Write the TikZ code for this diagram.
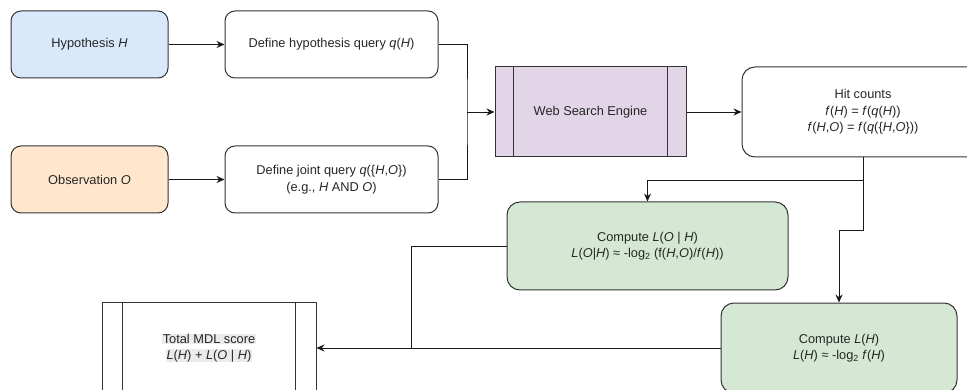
\documentclass[tikz,border=0pt]{standalone}
\usepackage{fontspec}
\setmainfont{Liberation Sans}
\usetikzlibrary{arrows.meta,calc}
\definecolor{bluef}{HTML}{DAE8FC}
\definecolor{orangef}{HTML}{FFE6CC}
\definecolor{purplef}{HTML}{E1D5E7}
\definecolor{greenf}{HTML}{D5E8D4}
\definecolor{linec}{HTML}{333333}
\definecolor{hlgray}{HTML}{EBEBEB}
\newcommand{\hl}[1]{{\setlength{\fboxsep}{0.5pt}\colorbox{hlgray}{#1}}}
\begin{document}
\begin{tikzpicture}[x=1pt,y=-1pt,
  every node/.style={font=\fontsize{12.8}{16.5}\selectfont, text=black!85, align=center, inner sep=0pt},
  boxa/.style={draw=linec, line width=1pt, rounded corners=10pt},
  boxb/.style={draw=linec, line width=1pt, rounded corners=13pt},
  procbox/.style={draw=linec, line width=1pt},
  conn/.style={draw=black!90, line width=0.95pt},
  arr/.style={conn, -{Stealth[length=8pt,width=7pt]}}]
\useasboundingbox (0,0) rectangle (967,390);
\clip (0,0) rectangle (967,390);
\fill[white] (0,0) rectangle (967,390);

\node[boxa, fill=bluef, minimum width=157pt, minimum height=67pt] (hyp) at (89.5,44.5) {Hypothesis \textit{H}};
\node[boxa, minimum width=213pt, minimum height=67pt] (qh) at (331.5,44.5) {Define hypothesis query \textit{q}(\textit{H})};
\node[boxa, fill=orangef, minimum width=157pt, minimum height=67pt] (obs) at (89.5,179.5) {Observation \textit{O}};
\node[boxa, minimum width=213pt, minimum height=67pt] (qj) at (331.5,179.5) {Define joint query \textit{q}(\{\textit{H},\textit{O}\})\\(e.g., \textit{H} AND \textit{O})};

\node[procbox, fill=purplef, minimum width=191pt, minimum height=90pt] (web) at (590.5,112) {Web Search Engine};
\draw[procbox] ($(web.north west)+(19pt,0)$) -- ($(web.south west)+(19pt,0)$);
\draw[procbox] ($(web.north east)+(-19pt,0)$) -- ($(web.south east)+(-19pt,0)$);

\node[boxb, minimum width=242pt, minimum height=90pt] (hit) at (863,112) {Hit counts\\\textit{f}(\textit{H}) = \textit{f}(\textit{q}(\textit{H}))\\\textit{f}(\textit{H},\textit{O}) = \textit{f}(\textit{q}(\{\textit{H},\textit{O}\}))};

\node[boxb, fill=greenf, minimum width=281pt, minimum height=88pt] (clo) at (647.5,246) {Compute \textit{L}(\textit{O} | \textit{H})\\\textit{L}(\textit{O}|\textit{H}) ≈ -log\textsubscript{2} (f(\textit{H},\textit{O})/\textit{f}(\textit{H}))};
\node[boxb, fill=greenf, minimum width=236pt, minimum height=90pt] (clh) at (839,348) {Compute \textit{L}(\textit{H})\\\textit{L}(\textit{H}) ≈ -log\textsubscript{2} \textit{f}(\textit{H})};

\node[procbox, fill=white, minimum width=214pt, minimum height=92pt] (mdl) at (209,348) {\hl{Total MDL score}\\[-1pt]\hl{\textit{L}(\textit{H}) + \textit{L}(\textit{O} | \textit{H})}};
\draw[procbox] ($(mdl.north west)+(21pt,0)$) -- ($(mdl.south west)+(21pt,0)$);
\draw[procbox] ($(mdl.north east)+(-21pt,0)$) -- ($(mdl.south east)+(-21pt,0)$);

\coordinate (j1) at (467,112);
\coordinate (j2) at ($(hit.south |- 0,180)$);
\coordinate (j2b) at ($(hit.south |- 0,230)$);
\coordinate (j3) at (411,348);

\draw[arr] (hyp) -- (qh);
\draw[arr] (obs) -- (qj);
\draw[conn] (qh.east) -| (j1) |- (qj.east);
\draw[arr] (j1) -- (web.west);
\draw[arr] (web) -- (hit);
\draw[arr] (hit.south) -- (j2) -| (clo.north);
\draw[arr] (j2) -- (j2b) -| (clh.north);
\draw[conn] (clo.west) -| (j3);
\draw[arr] (clh.west) -- (mdl.east);
\end{tikzpicture}
\end{document}
